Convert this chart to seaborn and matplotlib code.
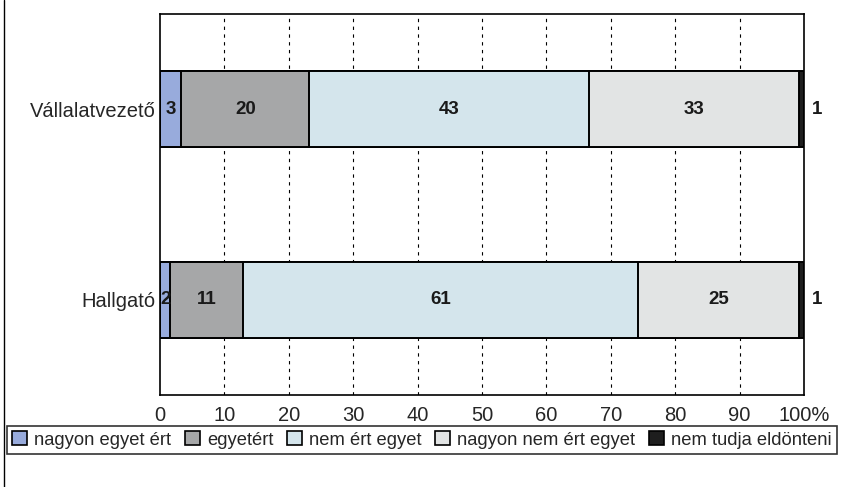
import numpy as np
import pandas as pd
import matplotlib
matplotlib.use("Agg")
import matplotlib.pyplot as plt
from matplotlib.patches import Patch
from matplotlib.lines import Line2D
import seaborn as sns

# data (percent of answers)
categories = ["Vállalatvezető", "Hallgató"]
answers = ["nagyon egyet ért", "egyetért", "nem ért egyet",
           "nagyon nem ért egyet", "nem tudja eldönteni"]
nagyon_egyet = [3.3, 1.6]
egyetert = [19.9, 11.3]
nem_ert = [43.4, 61.4]
nagyon_nem = [32.7, 25.0]
nem_tudja = [0.7, 0.7]
xtick_labels = ["0", "10", "20", "30", "40", "50", "60", "70", "80", "90", "100%"]

colors = ["#98abdc", "#a6a7a8", "#d4e5ec", "#e2e4e4", "#1e1e1e"]

series = [nagyon_egyet, egyetert, nem_ert, nagyon_nem, nem_tudja]
df = pd.DataFrame(dict(zip(answers, series)), index=categories)
cum = df.cumsum(axis=1)

sns.set_theme(style="white")
plt.rcParams["font.family"] = ["Liberation Sans", "DejaVu Sans"]

fig = plt.figure(figsize=(8.44, 4.87), dpi=100)
ax = fig.add_axes([160 / 844, 1 - 395 / 487, 644 / 844, 381 / 487])

# vertical dashed grid behind the bars
for v in range(10, 100, 10):
    ax.axvline(v, color="black", lw=0.8, ls=(0, (3, 4)), zorder=0)

# stacked bars: draw cumulative totals from the longest to the shortest
for i in range(len(answers) - 1, -1, -1):
    plot_df = pd.DataFrame({"cat": categories, "val": cum.iloc[:, i].values})
    sns.barplot(data=plot_df, x="val", y="cat", orient="h", color=colors[i],
                saturation=1, edgecolor="black", linewidth=1.4, width=0.4,
                ax=ax, zorder=2)

# value labels
for r, cat in enumerate(categories):
    left = 0
    for i, name in enumerate(answers):
        val = df.loc[cat, name]
        xpos = left + val / 2
        if i == len(answers) - 1:
            xpos = 102
        ax.text(xpos, r, f"{round(val)}", ha="center", va="center",
                fontsize=13.5, fontweight="bold", color="#1a1a1a", zorder=5)
        left += val

ax.set_xlim(0, 100)
ax.set_ylim(1.5, -0.5)
ax.set_xticks(range(0, 101, 10))
ax.set_xticklabels(xtick_labels, fontsize=14.5)
ax.set_xlabel("")
ax.set_ylabel("")
ax.tick_params(axis="x", direction="inout", length=6, width=1, color="black", pad=5)
ax.tick_params(axis="y", length=0, labelsize=14.5, pad=3)
for s in ax.spines.values():
    s.set_visible(True)
    s.set_color("black")
    s.set_linewidth(1.2)

handles = [Patch(facecolor=c, edgecolor="black", linewidth=1.2) for c in colors]
leg = fig.legend(handles, answers, loc="center", ncol=5,
                 bbox_to_anchor=(422 / 844, 1 - 440 / 487), fontsize=13.2,
                 frameon=True, fancybox=False, edgecolor="black",
                 handlelength=0.8, handleheight=0.8, handletextpad=0.4,
                 columnspacing=0.75, borderpad=0.3, borderaxespad=0)
leg.get_frame().set_linewidth(1.2)

# left page border
fig.add_artist(Line2D([4 / 844, 4 / 844], [0, 1], color="black", lw=1))

fig.savefig("out.png", dpi=100)
